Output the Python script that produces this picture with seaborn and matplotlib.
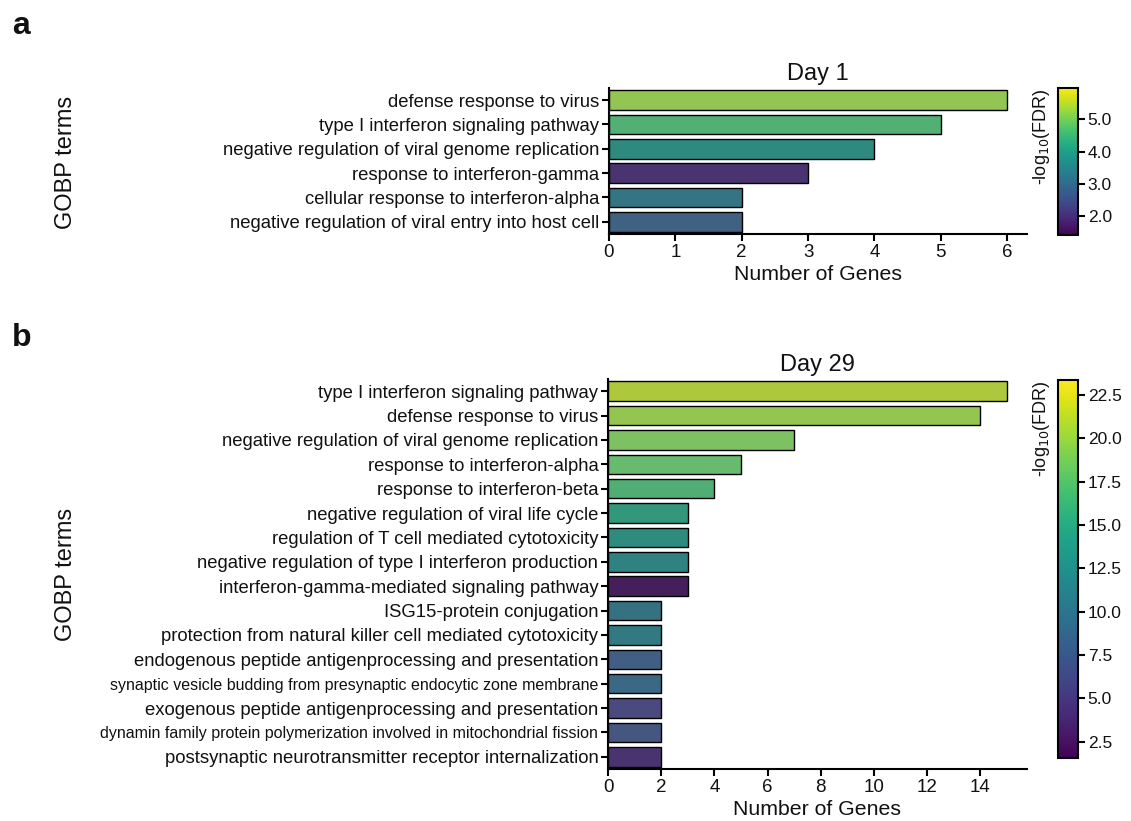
import numpy as np
import pandas as pd
import matplotlib
matplotlib.use("Agg")
import matplotlib.pyplot as plt
import seaborn as sns
from matplotlib import cm, colors as mcolors

# ---------------- data ----------------
day1_terms = [
    "defense response to virus",
    "type I interferon signaling pathway",
    "negative regulation of viral genome replication",
    "response to interferon-gamma",
    "cellular response to interferon-alpha",
    "negative regulation of viral entry into host cell",
]
day1_counts = [6, 5, 4, 3, 2, 2]
day1_logfdr = [5.25, 4.60, 3.85, 1.95, 3.30, 2.80]
day1_cbar_range = [1.41, 5.97]
day1_cbar_ticks = [2.0, 3.0, 4.0, 5.0]
day1_xticks = [0, 1, 2, 3, 4, 5, 6]

day29_terms = [
    "type I interferon signaling pathway",
    "defense response to virus",
    "negative regulation of viral genome replication",
    "response to interferon-alpha",
    "response to interferon-beta",
    "negative regulation of viral life cycle",
    "regulation of T cell mediated cytotoxicity",
    "negative regulation of type I interferon production",
    "interferon-gamma-mediated signaling pathway",
    "ISG15-protein conjugation",
    "protection from natural killer cell mediated cytotoxicity",
    "endogenous peptide antigenprocessing and presentation",
    "synaptic vesicle budding from presynaptic endocytic zone membrane",
    "exogenous peptide antigenprocessing and presentation",
    "dynamin family protein polymerization involved in mitochondrial fission",
    "postsynaptic neurotransmitter receptor internalization",
]
day29_counts = [15, 14, 7, 5, 4, 3, 3, 3, 3, 2, 2, 2, 2, 2, 2, 2]
day29_logfdr = [21.2, 20.0, 18.9, 17.8, 16.7, 14.6, 13.5, 12.4, 2.7,
                10.3, 11.3, 8.1, 9.2, 5.8, 7.0, 4.2]
day29_cbar_range = [1.56, 23.37]
day29_cbar_ticks = [2.5, 5.0, 7.5, 10.0, 12.5, 15.0, 17.5, 20.0, 22.5]
day29_xticks = [0, 2, 4, 6, 8, 10, 12, 14]
small_label_terms = [
    "synaptic vesicle budding from presynaptic endocytic zone membrane",
    "dynamin family protein polymerization involved in mitochondrial fission",
]

# ---------------- style ----------------
sns.set_theme(style="ticks")
plt.rcParams["font.family"] = ["Liberation Sans", "DejaVu Sans"]
plt.rcParams["axes.linewidth"] = 1.5
plt.rcParams["xtick.major.width"] = 1.5
plt.rcParams["ytick.major.width"] = 1.5
plt.rcParams["xtick.color"] = "black"
plt.rcParams["ytick.color"] = "black"
plt.rcParams["axes.edgecolor"] = "black"
plt.rcParams["text.color"] = "#111111"
plt.rcParams["axes.labelcolor"] = "#111111"
plt.rcParams["xtick.labelcolor"] = "#111111"
plt.rcParams["ytick.labelcolor"] = "#111111"

W, H = 1131, 821
fig = plt.figure(figsize=(W / 100, H / 100), dpi=100)


def fr(x0, y0, x1, y1):
    return [x0 / W, 1 - y1 / H, (x1 - x0) / W, (y1 - y0) / H]


def panel(ax_rect, cb_rect, terms, counts, logfdr, crange, cticks, xticks,
          title):
    ax = fig.add_axes(fr(*ax_rect))
    cmap = plt.get_cmap("viridis")
    norm = mcolors.Normalize(vmin=crange[0], vmax=crange[1])
    pal = [cmap(norm(v)) for v in logfdr]
    df = pd.DataFrame({"term": terms, "count": counts})
    sns.barplot(data=df, x="count", y="term", hue="term", palette=pal,
                legend=False, ax=ax, edgecolor="black", linewidth=1.0,
                order=terms, hue_order=terms)
    sns.despine(ax=ax)
    ax.set_xticks(xticks)
    ax.set_xticklabels([str(t) for t in xticks])
    ax.set_title(title, fontsize=17, pad=6)
    ax.set_xlabel("Number of Genes", fontsize=15.3, labelpad=3)
    ax.set_ylabel("")
    ax.tick_params(axis="x", labelsize=13.5, length=5, pad=2)
    ax.tick_params(axis="y", labelsize=13.3, length=5, pad=2)
    for lab in ax.get_yticklabels():
        if lab.get_text() in small_label_terms:
            lab.set_fontsize(11.5)
    cax = fig.add_axes(fr(*cb_rect))
    sm = cm.ScalarMappable(norm=norm, cmap=cmap)
    cb = fig.colorbar(sm, cax=cax, ticks=cticks, format="%.1f")
    cb.outline.set_linewidth(1.5)
    cb.outline.set_edgecolor("black")
    cax.tick_params(labelsize=12.5, length=5, width=1.5, pad=2)
    cax.yaxis.set_label_position("left")
    cb.set_label(r"-log$_{10}$(FDR)", fontsize=13, labelpad=4, loc="top")
    return ax


ax1 = panel((609, 88, 1027, 234), (1058, 88, 1078, 235),
            day1_terms, day1_counts, day1_logfdr, day1_cbar_range,
            day1_cbar_ticks, day1_xticks, "Day 1")
ax2 = panel((608, 379, 1027, 769), (1058, 380, 1078, 758),
            day29_terms, day29_counts, day29_logfdr, day29_cbar_range,
            day29_cbar_ticks, day29_xticks, "Day 29")

fig.text(66 / W, 1 - 162 / H, "GOBP terms", rotation=90, fontsize=17,
         ha="center", va="center")
fig.text(66 / W, 1 - 574 / H, "GOBP terms", rotation=90, fontsize=17,
         ha="center", va="center")
fig.text(12 / W, 1 - 26 / H, "a", fontsize=23, fontweight="bold",
         ha="left", va="center")
fig.text(12 / W, 1 - 338 / H, "b", fontsize=23, fontweight="bold",
         ha="left", va="center")

fig.savefig("out.png", dpi=100)
